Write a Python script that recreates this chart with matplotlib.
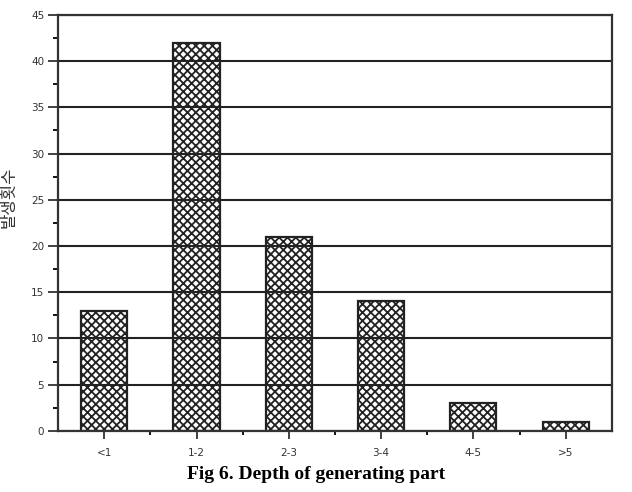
import matplotlib
matplotlib.use("Agg")
import matplotlib.pyplot as plt
import numpy as np

categories = ["<1", "1-2", "2-3", "3-4", "4-5", ">5"]
counts = [13, 42, 21, 14, 3, 1]
y_ticks = [0, 5, 10, 15, 20, 25, 30, 35, 40, 45]

plt.rcParams["hatch.linewidth"] = 1.3

fig = plt.figure(figsize=(6.32, 4.92), dpi=100)
ax = fig.add_axes([0.092, 0.124, 0.876, 0.846])

x = np.arange(len(categories))
ax.bar(x, counts, width=0.5, color="white", edgecolor="#222222",
       linewidth=1.6, hatch="xxxx", zorder=2)

ax.set_xlim(-0.5, len(categories) - 0.5)
ax.set_ylim(0, 45)
ax.set_yticks(y_ticks)
ax.set_yticks(np.arange(2.5, 45, 5), minor=True)
ax.set_xticks(x)
ax.set_xticklabels(categories)
ax.set_xticks(np.arange(0.5, len(categories) - 1, 1), minor=True)

ax.grid(axis="y", color="#222222", linewidth=1.5, zorder=3)
ax.set_axisbelow(False)

for s in ax.spines.values():
    s.set_linewidth(1.6)
    s.set_color("#333333")
    s.set_zorder(4)

ax.tick_params(axis="y", which="major", direction="out", length=7, width=1.3,
               labelsize=7.5, colors="#333333", pad=3)
ax.tick_params(axis="y", which="minor", direction="out", length=3.5, width=1.3)
ax.tick_params(axis="x", which="major", direction="out", length=6, width=1.3,
               labelsize=7.5, colors="#333333", pad=6)
ax.tick_params(axis="x", which="minor", direction="out", length=3, width=1.3)

fig.text(0.014, 0.60, "발생횟수", rotation=90, ha="center", va="center",
         fontsize=12, color="#333333", family=["Noto Sans CJK KR", "DejaVu Sans"])

fig.text(0.5, 0.035, "Fig 6. Depth of generating part", ha="center", va="center",
         fontsize=14, fontweight="bold", family="Liberation Serif")

fig.savefig("out.png", dpi=100)
